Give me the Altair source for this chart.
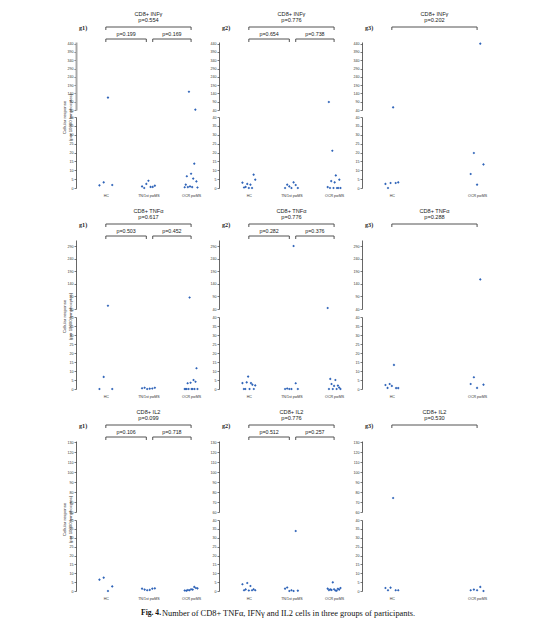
import altair as alt
import pandas as pd

CATS = ["HC", "TN/1st pwMS", "OCR pwMS"]
ROW_TITLES = ["CD8+ INFγ", "CD8+ TNFα", "CD8+ IL2"]
PANEL_LABELS = ["g1)", "g2)", "g3)"]
P_ALL = [["p=0.554", "p=0.776", "p=0.202"],
         ["p=0.617", "p=0.776", "p=0.288"],
         ["p=0.099", "p=0.776", "p=0.530"]]
P_LEFT = [["p=0.199", "p=0.654"], ["p=0.503", "p=0.282"], ["p=0.106", "p=0.512"]]
P_RIGHT = [["p=0.169", "p=0.738"], ["p=0.452", "p=0.376"], ["p=0.718", "p=0.257"]]

UPPER_TICKS = [[40, 90, 140, 190, 240, 290, 340, 390, 440],
               [40, 90, 140, 190, 240, 290],
               [60, 70, 80, 90, 100, 110, 120, 130]]
UPPER_DOMAINS = [[40, 450], [40, 315], [60, 131]]
LOWER_TICKS = [0, 5, 10, 15, 20, 25, 30, 35, 40]
LOWER_DOMAIN = [0, 40]
Y_TITLE = ["Cellular response", "(per 10000 lymphocytes)"]
CAPTION_BOLD = "Fig. 4."
CAPTION_REST = "Number of CD8+ TNFα, IFNγ and IL2 cells in three groups of participants."

# ---- values (cells per 10000 lymphocytes) ----
INF_G1_HC = [1.5, 3.2, 115, 1.7]
INF_G1_TN = [0.9, 0, 2.3, 4.1, 0.6, 0.6, 1.3]
INF_G1_OCR = [0.4, 1.9, 6.6, 0.5, 150, 0.9, 8.0, 0.5, 5.3, 13.7, 42, 3.7, 0.3]
INF_G2_HC = [3.0, 0.3, 0.6, 2.3, 0, 1.9, 0, 7.5, 4.7]
INF_G2_TN = [0, 1.9, 0.9, 0, 3.2, 1.7, 0]
INF_G2_OCR = [0.5, 88, 0, 3.9, 21, 0, 3.2, 7.1, 0, 0, 4.7, 0]
INF_G3_HC = [2.3, 0, 2.8, 56, 2.8, 3.2]
INF_G3_OCR = [7.9, 19.7, 1.9, 440, 13.3]

TNF_G1_HC = [0, 6.7, 53, 0]
TNF_G1_TN = [0.4, 0.7, 0, 0.2, 0.3, 0.7]
TNF_G1_OCR = [0, 0, 0, 3.2, 0, 86, 3.5, 0, 0, 5.0, 0, 4.0, 11.5, 0]
TNF_G2_HC = [3.3, 0, 0, 3.7, 6.9, 0, 3.3, 2.4, 0, 2.0]
TNF_G2_TN = [0, 0.3, 0, 0, 291, 3.2, 0]
TNF_G2_OCR = [44, 0, 5.6, 2.8, 0, 1.7, 5.0, 0, 1.9, 0.8, 0]
TNF_G3_HC = [2.2, 0.6, 2.8, 1.7, 13.4, 0.5, 0.5]
TNF_G3_OCR = [2.8, 6.5, 0.6, 158, 2.4]

IL2_G1_HC = [6.4, 7.5, 0, 2.6]
IL2_G1_TN = [1.3, 0.8, 0.4, 0.6, 1.3, 1.5]
IL2_G1_OCR = [0.3, 0.2, 0.5, 0.4, 1.0, 0.8, 2.3, 1.7, 1.5]
IL2_G2_HC = [3.8, 0.4, 0.9, 4.5, 0.3, 2.8, 0.4, 1.0, 0.4]
IL2_G2_TN = [1.3, 2.0, 0, 0.4, 0, 33.8, 0.2]
IL2_G2_OCR = [1.3, 0.5, 0.9, 0.6, 4.9, 1.0, 0.3, 0.2, 1.2, 0.8, 1.7]
IL2_G3_HC = [1.7, 0.4, 1.9, 74, 0.4, 0.4]
IL2_G3_OCR = [0.4, 0.8, 0.4, 2.3, 0]

PANELS = [
    [(INF_G1_HC, INF_G1_TN, INF_G1_OCR), (INF_G2_HC, INF_G2_TN, INF_G2_OCR), (INF_G3_HC, None, INF_G3_OCR)],
    [(TNF_G1_HC, TNF_G1_TN, TNF_G1_OCR), (TNF_G2_HC, TNF_G2_TN, TNF_G2_OCR), (TNF_G3_HC, None, TNF_G3_OCR)],
    [(IL2_G1_HC, IL2_G1_TN, IL2_G1_OCR), (IL2_G2_HC, IL2_G2_TN, IL2_G2_OCR), (IL2_G3_HC, None, IL2_G3_OCR)],
]

# ---- layout / style ----
W = 130
H_HEAD = 26
H_UP = [68, 69, 71]
H_LO = [71, 72, 71]
GAP = [7, 8, 8]
XDOM = [-0.7, 2.35]
BLUE = "#2E63B8"
GREY = "#404040"
LIGHT = "#A8A8A8"
SPREAD = 0.30
BREAK = 40
TXT = "#1a1a1a"

LABEL_EXPR = " : ".join(
    [f"datum.value == {i} ? '{c}'" for i, c in enumerate(CATS[:-1])]) + f" : '{CATS[-1]}'"


def points_df(groups):
    rows = []
    for ci, vals in groups:
        n = len(vals)
        for i, v in enumerate(vals):
            off = 0.0 if n == 1 else -SPREAD / 2 + SPREAD * i / (n - 1)
            rows.append({"cat": CATS[ci], "x": ci + off, "v": v})
    return pd.DataFrame(rows)


def xenc(axis=None):
    return alt.X("x:Q", scale=alt.Scale(domain=XDOM, nice=False, zero=False), axis=axis)


def yaxis(values, title=None, light=False, title_y=75):
    kw = dict(values=values, grid=False, tickSize=2, tickWidth=0.7, tickColor=GREY,
              domainColor=LIGHT if light else GREY, domainWidth=2 if light else 0.8,
              labelFontSize=3.6, labelPadding=1,
              labelColor="#333333", labelFont="Liberation Sans")
    if title is not None:
        kw.update(title=title, titleFontSize=4.3, titleFontWeight="normal", titleColor="#333333",
                  titleFont="Liberation Sans", titleX=-10, titleY=title_y, titleBaseline="bottom")
    else:
        kw.update(title=None)
    return alt.Axis(**kw)


def header(r, c):
    ysc = alt.Scale(domain=[0, H_HEAD], reverse=True, nice=False, zero=False)
    three = c < 2
    titles = pd.DataFrame({"x": [1, 1], "y": [5, 11], "t": [ROW_TITLES[r], P_ALL[r][c]]})
    segs = []
    brackets = [(0, 2, 18)]
    if three:
        brackets += [(0, 0.95, 30), (1.1, 2, 30)]
    for a, b, yb in brackets:
        segs.append({"x": a, "x2": b, "y": yb, "y2": yb})
        segs.append({"x": a, "x2": a, "y": yb, "y2": yb + 3})
        segs.append({"x": b, "x2": b, "y": yb, "y2": yb + 3})
    segs = pd.DataFrame(segs)
    layers = [
        alt.Chart(titles).mark_text(font="Liberation Sans", color=TXT, fontSize=5.6).encode(
            x=xenc(), y=alt.Y("y:Q", scale=ysc, axis=None), text="t:N"),
        alt.Chart(segs).mark_rule(color=GREY, strokeWidth=0.9).encode(
            x=xenc(), x2="x2:Q", y=alt.Y("y:Q", scale=ysc, axis=None), y2="y2:Q"),
        alt.Chart(pd.DataFrame({"t": [PANEL_LABELS[c]]})).mark_text(
            font="Liberation Serif", fontWeight="bold", fontSize=6.2, align="left", color=TXT
        ).encode(x=alt.value(3), y=alt.value(19), text="t:N"),
    ]
    if three:
        sp = pd.DataFrame({"x": [0.475, 1.55], "y": [25, 25], "t": [P_LEFT[r][c], P_RIGHT[r][c]]})
        layers.append(alt.Chart(sp).mark_text(font="Liberation Sans", color=TXT, fontSize=5.3).encode(
            x=xenc(), y=alt.Y("y:Q", scale=ysc, axis=None), text="t:N"))
    return alt.layer(*layers).properties(width=W, height=H_HEAD)


def panel(r, c):
    groups = [(ci, vals) for ci, vals in enumerate(PANELS[r][c]) if vals is not None]
    df = points_df(groups)
    up = df[df.v > BREAK]
    lo = df[df.v <= BREAK]
    pt = dict(filled=True, size=7, shape="diamond", color=BLUE, opacity=1)
    upper = alt.Chart(up).mark_point(**pt).encode(
        x=xenc(),
        y=alt.Y("v:Q", scale=alt.Scale(domain=UPPER_DOMAINS[r], nice=False, zero=False),
                axis=yaxis(UPPER_TICKS[r], Y_TITLE if c == 0 else None,
                           light=(r == 0 and c == 0), title_y=H_UP[r] + 7)),
    ).properties(width=W, height=H_UP[r])
    cat_vals = [ci for ci, _ in groups]
    lower = alt.Chart(lo).mark_point(**pt).encode(
        x=xenc(alt.Axis(values=cat_vals, labelExpr=LABEL_EXPR, domain=False, ticks=False, grid=False,
                        title=None, labelFontSize=3.6, labelPadding=5, labelColor="#333333",
                        labelFont="Liberation Sans")),
        y=alt.Y("v:Q", scale=alt.Scale(domain=LOWER_DOMAIN, nice=False, zero=False),
                axis=yaxis(LOWER_TICKS)),
    ).properties(width=W, height=H_LO[r])
    return alt.vconcat(header(r, c), upper, lower, spacing=GAP[r], bounds="flush")


rows = [alt.hconcat(*[panel(r, c) for c in range(3)], spacing=4) for r in range(3)]

cap = alt.layer(
    alt.Chart(pd.DataFrame({"t": [CAPTION_BOLD]})).mark_text(
        font="Liberation Serif", fontWeight="bold", fontSize=7.6, align="left", color="#111111"
    ).encode(x=alt.value(65), y=alt.value(4), text="t:N"),
    alt.Chart(pd.DataFrame({"t": [CAPTION_REST]})).mark_text(
        font="Liberation Serif", fontSize=8.4, align="left", color="#111111"
    ).encode(x=alt.value(86), y=alt.value(4), text="t:N"),
).properties(width=3 * W, height=10)

chart = alt.vconcat(*rows, cap, spacing=9).properties(
    padding={"left": 54, "top": 1, "right": 2, "bottom": 2}
).configure_view(stroke=None)

chart.save("out.html", embed_options={"renderer": "svg", "actions": False})
